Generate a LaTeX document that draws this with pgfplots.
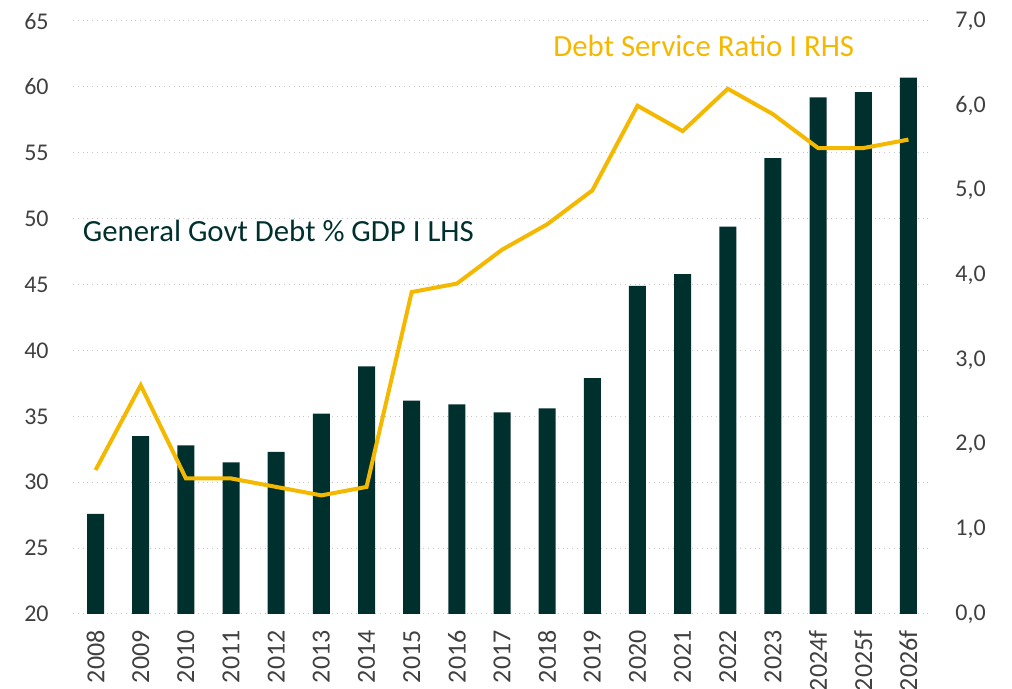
\documentclass[border=0pt]{standalone}
\usepackage{pgfplots}
\pgfplotsset{compat=1.18}
\usepackage{fontspec}
\setmainfont{Carlito}
\definecolor{barcol}{HTML}{00302E}
\definecolor{linecol}{HTML}{F5B800}
\definecolor{tickcol}{HTML}{404040}
\definecolor{gridcol}{HTML}{C4C4C4}
\begin{document}
\begin{tikzpicture}
\useasboundingbox (-36.5pt,-37.5pt) rectangle (469.5pt,307pt);
\pgfplotsset{
  common/.style={
    scale only axis, width=429pt, height=296.5pt,
    xmin=-0.5, xmax=18.5,
    axis line style={draw=none},
    major tick length=0pt,
    tick label style={font=\fontsize{12}{14}\selectfont, text=tickcol},
    /pgf/number format/assume math mode=true,
  }
}
\begin{axis}[common,
  ymin=20, ymax=65, ytick={20,25,...,65},
  ymajorgrids, grid style={gridcol, dotted, line width=0.5pt},
  xtick={0,...,18},
  xticklabels={2008,2009,2010,2011,2012,2013,2014,2015,2016,2017,2018,2019,2020,2021,2022,2023,2024f,2025f,2026f},
  xticklabel style={rotate=90, anchor=east, inner sep=0pt, font=\fontsize{13}{15}\selectfont},
  xticklabel shift=8pt,
  yticklabel style={anchor=east, inner sep=0pt}, yticklabel shift=12pt,
]
\addplot[ybar, bar width=8.5pt, fill=barcol, draw=none] coordinates {
(0,27.6) (1,33.5) (2,32.8) (3,31.5) (4,32.3) (5,35.2) (6,38.8) (7,36.2) (8,35.9) (9,35.3)
(10,35.6) (11,37.9) (12,44.9) (13,45.8) (14,49.4) (15,54.6) (16,59.2) (17,59.6) (18,60.7)};
\node[anchor=base west, inner sep=0pt, text=barcol, font=\fontsize{15.4}{17}\selectfont] at (axis cs:-0.29,48.25) {General Govt Debt \% GDP I LHS};
\node[anchor=base west, inner sep=0pt, text=linecol, font=\fontsize{15.4}{17}\selectfont] at (axis cs:10.13,62.28) {Debt Service Ratio I RHS};
\end{axis}
\begin{axis}[common, axis y line*=right, axis x line=none,
  ymin=0, ymax=7, ytick={0,1,...,7},
  yticklabel style={anchor=west, inner sep=0pt}, yticklabel shift=12pt,
  yticklabel={\pgfmathprintnumber[fixed,fixed zerofill,precision=1,use comma]{\tick}},
]
\addplot[linecol, line width=2pt] coordinates {
(0,1.7) (1,2.7) (2,1.6) (3,1.6) (4,1.5) (5,1.4) (6,1.5) (7,3.8) (8,3.9) (9,4.3)
(10,4.6) (11,5.0) (12,6.0) (13,5.7) (14,6.2) (15,5.9) (16,5.5) (17,5.5) (18,5.6)};
\end{axis}
\end{tikzpicture}
\end{document}
